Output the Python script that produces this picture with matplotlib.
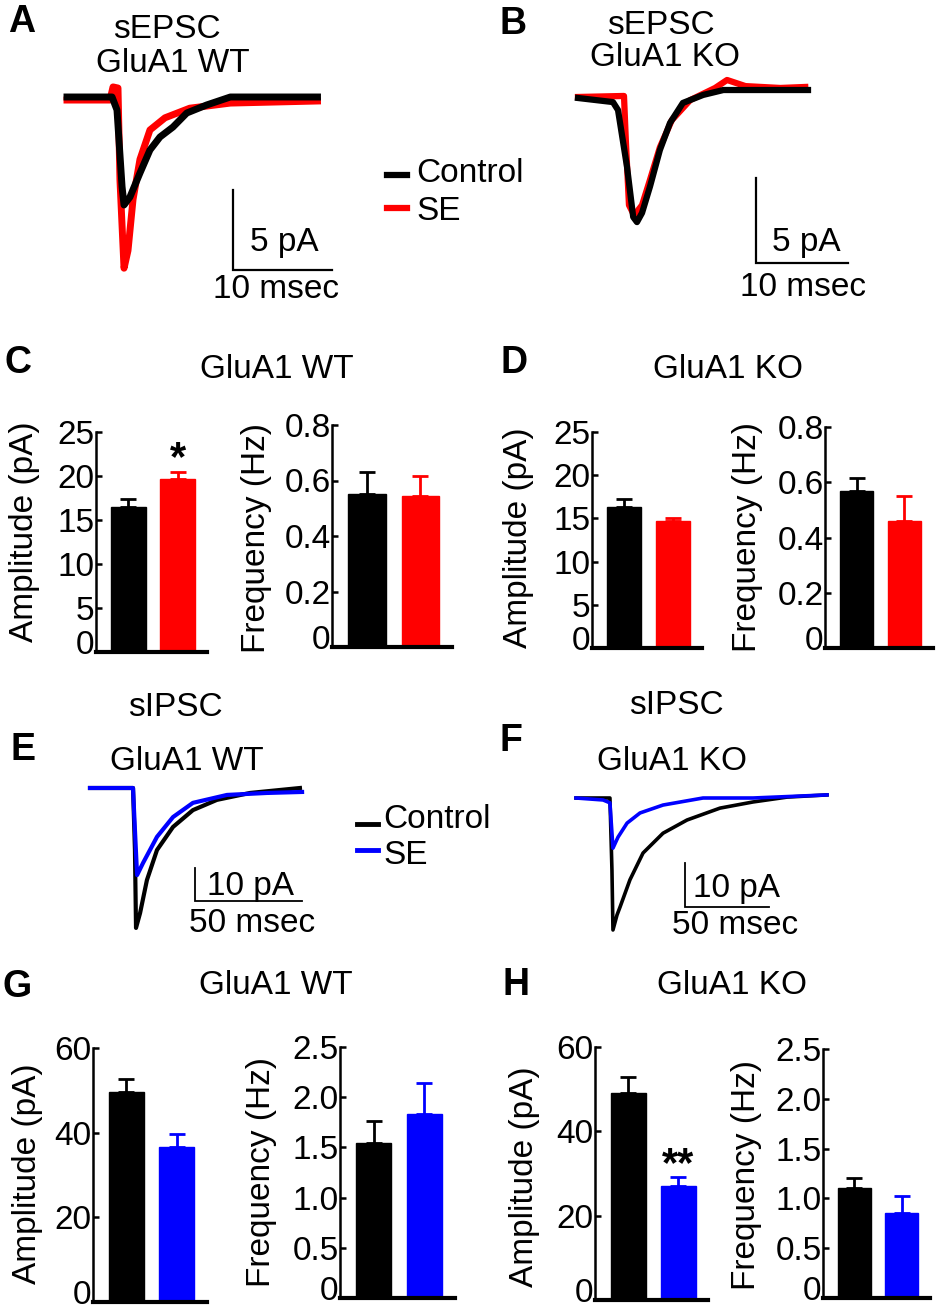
import matplotlib
matplotlib.use('Agg')
import matplotlib.pyplot as plt
from matplotlib.lines import Line2D
from matplotlib.transforms import ScaledTranslation

plt.rcParams['font.family'] = ['Liberation Sans', 'DejaVu Sans']

W, H = 937, 1309
RED = '#ff0000'
BLUE = '#0000ff'

# ---- averaged traces, time (ms) / current (pA)
a_ctrl_t = [0, 4.55, 5.05, 5.56, 5.76, 6.36, 7.37, 8.38, 9.39, 10.7, 12.1, 14.1, 16.5, 25.3]
a_ctrl_i = [0, 0, -0.81, -5.6, -6.75, -6.25, -4.75, -3.31, -2.5, -1.88, -1.0, -0.5, 0, 0]
a_se_t = [0, 4.34, 4.65, 5.15, 5.35, 5.76, 6.16, 6.67, 7.37, 8.38, 9.9, 12.4, 16.5, 25.3]
a_se_i = [-0.19, -0.19, 0.63, 0.56, -5.2, -10.7, -9.6, -6.4, -3.9, -2.06, -1.3, -0.7, -0.38, -0.25]

b_ctrl_t = [0, 3.8, 4.35, 5.33, 6.0, 6.41, 6.96, 7.83, 8.9, 10.0, 11.4, 13.6, 15.8, 25.0]
b_ctrl_i = [0, -0.24, -0.71, -4.06, -7.0, -7.3, -6.76, -5.2, -3.06, -1.47, -0.29, 0.18, 0.47, 0.47]
b_se_t = [0, 5.0, 5.2, 5.54, 6.1, 6.96, 7.83, 8.9, 10.2, 12.2, 14.9, 16.2, 18.2, 22.0, 24.7]
b_se_i = [0.06, 0.12, -2.5, -6.3, -6.9, -6.3, -4.8, -2.9, -1.3, -0.12, 0.59, 1.06, 0.7, 0.59, 0.65]

e_ctrl_t = [0, 20.1, 21.0, 21.5, 23.4, 26.6, 31.3, 38.8, 48.1, 59.3, 74.8, 98.1]
e_ctrl_i = [0, 0, -18.8, -42.4, -37.9, -27.9, -18.8, -11.8, -6.7, -3.6, -1.5, 0]
e_se_t = [0, 20.1, 21.0, 22.0, 24.8, 31.3, 38.8, 48.1, 64.0, 82.7, 99.1]
e_se_i = [0, 0, -12.7, -26.4, -22.7, -14.8, -8.8, -4.5, -2.1, -1.5, -1.2]

f_ctrl_t = [0, 20.2, 21.4, 22.0, 24.4, 26.2, 32.1, 39.9, 51.8, 66.1, 85.7, 105.4, 125.6, 149.4]
f_ctrl_i = [0, 0, -16.4, -30.0, -26.6, -24.8, -18.6, -12.5, -8.0, -5.0, -2.3, -0.9, 0.2, 0.7]
f_se_t = [0, 16.1, 20.2, 22.0, 25.0, 30.4, 38.1, 51.8, 75.6, 105.4, 149.4]
f_se_i = [0, -0.45, -1.1, -11.4, -8.9, -5.7, -3.4, -1.6, 0, 0, 0.7]

# ---- bar summaries: [Control, SE], error bars are SEM
groups = ['Control', 'SE']
c_amp, c_amp_err = [16.5, 19.7], [0.9, 0.7]
c_freq, c_freq_err = [0.551, 0.544], [0.08, 0.072]
d_amp, d_amp_err = [16.3, 14.7], [0.9, 0.35]
d_freq, d_freq_err = [0.568, 0.46], [0.047, 0.09]
g_amp, g_amp_err = [49.6, 36.6], [3.1, 3.1]
g_freq, g_freq_err = [1.54, 1.83], [0.22, 0.31]
h_amp, h_amp_err = [49.1, 27.0], [3.8, 2.2]
h_freq, h_freq_err = [1.10, 0.853], [0.10, 0.17]

epsc_amp_ticks = [0, 5, 10, 15, 20, 25]
epsc_freq_ticks = [0, 0.2, 0.4, 0.6, 0.8]
epsc_freq_labels = ['0', '0.2', '0.4', '0.6', '0.8']
ipsc_amp_ticks = [0, 20, 40, 60]
ipsc_freq_ticks = [0, 0.5, 1.0, 1.5, 2.0, 2.5]
ipsc_freq_labels = ['0', '0.5', '1.0', '1.5', '2.0', '2.5']

fig = plt.figure(figsize=(W / 100, H / 100), dpi=100)


def fx(x):
    return x / W


def fy(y):
    return 1 - y / H


def label(x, y, s, size=24, **kw):
    fig.text(fx(x), fy(y), s, fontsize=size, ha='center', va='center', **kw)


def trace_ax(box, origin, ms_px, pa_px):
    # box = (x0, y0, x1, y1) in pixels, origin = pixel of t=0, I=0
    x0, y0, x1, y1 = box
    ox, oy = origin
    ax = fig.add_axes([fx(x0), fy(y1), (x1 - x0) / W, (y1 - y0) / H])
    ax.set_xlim((x0 - ox) / ms_px, (x1 - ox) / ms_px)
    ax.set_ylim(-(y1 - oy) / pa_px, -(y0 - oy) / pa_px)
    ax.axis('off')
    return ax


def scale_bar(ax, corner, pa, ms, lw=1.6):
    t, i = corner
    ax.plot([t, t, t + ms], [i + pa, i, i], color='black', lw=lw,
            solid_joinstyle='miter')


def bar_panel(rect, vals, errs, color, ticks, ticklabels):
    left, top, right, bottom = rect
    ax = fig.add_axes([fx(left), fy(bottom), (right - left) / W,
                       (bottom - top) / H])
    cols = ['black', color]
    for k in range(2):
        ax.bar(k, vals[k], width=0.7, color=cols[k], edgecolor=cols[k],
               linewidth=1, zorder=2)
        ax.errorbar(k, vals[k], yerr=[[0], [errs[k]]], color=cols[k],
                    elinewidth=2, capsize=6, capthick=2, zorder=1)
    ax.set_xlim(-0.66, 1.6)
    ax.set_ylim(0, ticks[-1])
    ax.set_yticks(ticks)
    ax.set_yticklabels(ticklabels)
    ax.set_xticks([])
    for s in ['top', 'right']:
        ax.spines[s].set_visible(False)
    ax.spines['left'].set_linewidth(1.8)
    ax.spines['bottom'].set_linewidth(3)
    ax.spines['left'].set_zorder(3)
    ax.tick_params(axis='y', direction='in', length=4, width=1.8,
                   labelsize=24, pad=1)
    # the "0" label sits a little above the baseline in the original
    zero = ax.get_yticklabels()[0]
    zero.set_transform(zero.get_transform() +
                       ScaledTranslation(0, 7 / 72, fig.dpi_scale_trans))
    ax.patch.set_alpha(0)
    return ax


# ---------------- A / B : sEPSC traces
axA = trace_ax((40, 60, 470, 310), (67, 97), 9.9, 16)
axA.plot(a_se_t, a_se_i, color=RED, lw=5, solid_joinstyle='round')
axA.plot(a_ctrl_t, a_ctrl_i, color='black', lw=5, solid_joinstyle='round')
scale_bar(axA, (16.8, -10.8), 5, 10)

axB = trace_ax((540, 60, 930, 310), (578, 98), 9.2, 17)
axB.plot(b_se_t, b_se_i, color=RED, lw=4.5, solid_joinstyle='round')
axB.plot(b_ctrl_t, b_ctrl_i, color='black', lw=4.5, solid_joinstyle='round')
scale_bar(axB, (19.3, -9.7), 5, 10)

label(22, 22, 'A', size=27, fontweight='bold')
label(167, 29, 'sEPSC')
label(173, 63, 'GluA1 WT')
label(284, 242, '5 pA')
label(276, 289, '10 msec')
label(513, 24, 'B', size=27, fontweight='bold')
label(661, 26, 'sEPSC')
label(665, 58, 'GluA1 KO')
label(806, 242, '5 pA')
label(803, 287, '10 msec')

# legend A/B
fig.add_artist(Line2D([fx(387), fx(407)], [fy(175), fy(175)], color='black', lw=4.5))
fig.add_artist(Line2D([fx(387), fx(407)], [fy(208), fy(208)], color=RED, lw=4.5))
fig.text(fx(416), fy(173), groups[0], fontsize=24, ha='left', va='center')
fig.text(fx(416), fy(212), groups[1], fontsize=24, ha='left', va='center')

# ---------------- C / D : sEPSC summaries
label(18, 363, 'C', size=27, fontweight='bold')
label(277, 369, 'GluA1 WT')
axC1 = bar_panel((96, 432, 207, 652), c_amp, c_amp_err, RED,
                 epsc_amp_ticks, [str(v) for v in epsc_amp_ticks])
axC1.text(1, c_amp[1] + c_amp_err[1] - 0.8, '*', fontsize=30,
          fontweight='bold', ha='center', va='bottom')
axC2 = bar_panel((332, 425, 452, 647), c_freq, c_freq_err, RED,
                 epsc_freq_ticks, epsc_freq_labels)
label(25, 532, 'Amplitude (pA)', rotation=90)
label(257, 538, 'Frequency (Hz)', rotation=90)

label(514, 363, 'D', size=27, fontweight='bold')
label(728, 369, 'GluA1 KO')
axD1 = bar_panel((592, 432, 702, 648), d_amp, d_amp_err, RED,
                 epsc_amp_ticks, [str(v) for v in epsc_amp_ticks])
axD2 = bar_panel((825, 427, 933, 648), d_freq, d_freq_err, RED,
                 epsc_freq_ticks, epsc_freq_labels)
label(519, 538, 'Amplitude (pA)', rotation=90)
label(748, 537, 'Frequency (Hz)', rotation=90)

# ---------------- E / F : sIPSC traces
axE = trace_ax((60, 770, 340, 950), (90, 788), 2.14, 3.3)
axE.plot(e_ctrl_t, e_ctrl_i, color='black', lw=3, solid_joinstyle='round')
axE.plot(e_se_t, e_se_i, color=BLUE, lw=3, solid_joinstyle='round')
scale_bar(axE, (49.1, -34.2), 10, 50, lw=1.3)

axF = trace_ax((560, 780, 860, 950), (576, 798), 1.68, 4.4)
axF.plot(f_ctrl_t, f_ctrl_i, color='black', lw=2.6, solid_joinstyle='round')
axF.plot(f_se_t, f_se_i, color=BLUE, lw=2.6, solid_joinstyle='round')
scale_bar(axF, (64.9, -24.8), 10, 50, lw=1.3)

label(23, 750, 'E', size=27, fontweight='bold')
label(175, 707, 'sIPSC')
label(187, 762, 'GluA1 WT')
label(251, 887, '10 pA')
label(252, 923, '50 msec')
label(511, 741, 'F', size=27, fontweight='bold')
label(676, 706, 'sIPSC')
label(672, 762, 'GluA1 KO')
label(737, 888, '10 pA')
label(735, 926, '50 msec')

# legend E/F
fig.add_artist(Line2D([fx(357), fx(378)], [fy(824), fy(824)], color='black', lw=3.5))
fig.add_artist(Line2D([fx(357), fx(378)], [fy(850), fy(850)], color=BLUE, lw=3.5))
fig.text(fx(383), fy(820), groups[0], fontsize=24, ha='left', va='center')
fig.text(fx(383), fy(855), groups[1], fontsize=24, ha='left', va='center')

# ---------------- G / H : sIPSC summaries
label(17, 987, 'G', size=27, fontweight='bold')
label(276, 986, 'GluA1 WT')
axG1 = bar_panel((93, 1048, 207, 1302), g_amp, g_amp_err, BLUE,
                 ipsc_amp_ticks, [str(v) for v in ipsc_amp_ticks])
axG2 = bar_panel((340, 1047, 455, 1298), g_freq, g_freq_err, BLUE,
                 ipsc_freq_ticks, ipsc_freq_labels)
label(28, 1174, 'Amplitude (pA)', rotation=90)
label(262, 1172, 'Frequency (Hz)', rotation=90)

label(516, 985, 'H', size=27, fontweight='bold')
label(732, 986, 'GluA1 KO')
axH1 = bar_panel((595, 1047, 708, 1300), h_amp, h_amp_err, BLUE,
                 ipsc_amp_ticks, [str(v) for v in ipsc_amp_ticks])
axH1.text(1, h_amp[1] + h_amp_err[1] - 1.9, '**', fontsize=30,
          fontweight='bold', ha='center', va='bottom')
axH2 = bar_panel((823, 1049, 930, 1298), h_freq, h_freq_err, BLUE,
                 ipsc_freq_ticks, ipsc_freq_labels)
label(525, 1177, 'Amplitude (pA)', rotation=90)
label(747, 1175, 'Frequency (Hz)', rotation=90)

fig.savefig('out.png', dpi=100)
